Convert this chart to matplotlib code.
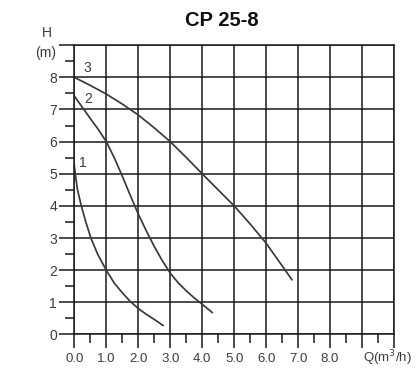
import matplotlib
matplotlib.use("Agg")
import matplotlib.pyplot as plt
from matplotlib.ticker import MultipleLocator

plt.rcParams['font.family'] = ['Liberation Sans', 'DejaVu Sans']

# pump curves, flow Q (m3/h) vs head H (m), one per speed setting
q1 = [0.0, 0.03, 0.1, 0.22, 0.36, 0.52, 0.73, 1.0, 1.25, 1.5, 1.75, 2.0, 2.25, 2.5, 2.78]
h1 = [5.27, 5.0, 4.5, 4.0, 3.5, 3.0, 2.5, 2.0, 1.6, 1.3, 1.03, 0.81, 0.63, 0.47, 0.28]

q2 = [0.0, 0.5, 0.75, 1.0, 1.25, 1.5, 1.75, 2.0, 2.25, 2.5, 2.75, 3.0, 3.25, 3.5, 3.75, 4.0, 4.32]
h2 = [7.42, 6.72, 6.38, 6.0, 5.5, 4.93, 4.33, 3.75, 3.23, 2.74, 2.30, 1.91, 1.61, 1.36, 1.14, 0.94, 0.68]

q3 = [0.0, 0.5, 1.0, 1.5, 2.0, 2.5, 3.0, 3.5, 4.0, 4.5, 5.0, 5.5, 6.0, 6.5, 6.81]
h3 = [8.0, 7.75, 7.48, 7.17, 6.83, 6.43, 6.0, 5.51, 5.0, 4.5, 4.0, 3.44, 2.84, 2.14, 1.7]

curve_names = ["1", "2", "3"]
x_ticks = [0, 1, 2, 3, 4, 5, 6, 7, 8, 9, 10]
x_labels = ["0.0", "1.0", "2.0", "3.0", "4.0", "5.0", "6.0", "7.0", "8.0", "", ""]
y_ticks = [0, 1, 2, 3, 4, 5, 6, 7, 8, 9]
y_labels = ["0", "1", "2", "3", "4", "5", "6", "7", "8", ""]

fig = plt.figure(figsize=(4.16, 3.69), dpi=100)
ax = fig.add_axes([0.1786, 0.0935, 0.7685, 0.784])

grid_col = "#1a1a1a"
ax.set_xlim(0, 10)
ax.set_ylim(0, 9)
ax.set_xticks(x_ticks)
ax.set_xticklabels(x_labels)
ax.set_yticks(y_ticks)
ax.set_yticklabels(y_labels)
ax.xaxis.set_minor_locator(MultipleLocator(0.5))
ax.yaxis.set_minor_locator(MultipleLocator(0.5))
ax.grid(True, which="major", color=grid_col, linewidth=1.1)
ax.set_axisbelow(True)

for s in ax.spines.values():
    s.set_color(grid_col)
    s.set_linewidth(1.1)

ax.tick_params(axis="y", which="major", direction="out", length=11, width=1.1,
               color=grid_col, pad=1.5, labelsize=10, labelcolor="#3c3c3c")
ax.tick_params(axis="x", which="major", direction="out", length=10, width=1.1,
               color=grid_col, pad=3, labelsize=9.5, labelcolor="#3c3c3c")
ax.tick_params(which="minor", direction="out", length=6.5, width=1.1, color=grid_col)

curve_col = "#3a3a3a"
for q, h in [(q1, h1), (q2, h2), (q3, h3)]:
    ax.plot(q, h, color=curve_col, linewidth=1.25, solid_joinstyle="round",
            solid_capstyle="round", clip_on=False)

# speed numbers next to the start of each curve
for name, (lx, ly) in zip(curve_names, [(0.26, 5.34), (0.44, 7.32), (0.41, 8.28)]):
    ax.text(lx, ly, name, fontsize=10, color="#3c3c3c", ha="center", va="center")

fig.text(221.5 / 416, 1 - 20 / 369, "CP 25-8", fontsize=14.5, fontweight="bold",
         ha="center", va="center", color="#111111")
fig.text(46.7 / 416, 1 - 33 / 369, "H", fontsize=10, ha="center", va="center", color="#3c3c3c")
fig.text(46 / 416, 1 - 53.3 / 369, "(m)", fontsize=10, ha="center", va="center", color="#3c3c3c")
fig.text(387.5 / 416, 1 - 358.5 / 369, "Q(m$^3$/h)", fontsize=9.5, ha="center", va="center",
         color="#3c3c3c")

fig.savefig("out.png", dpi=100, facecolor="white")
